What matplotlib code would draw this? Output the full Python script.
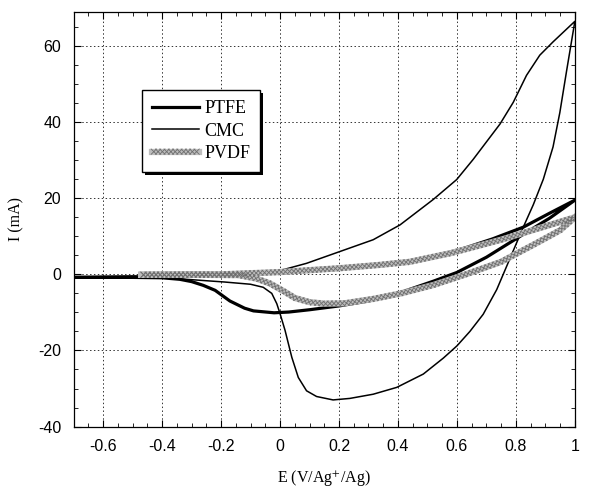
import matplotlib
matplotlib.use('Agg')
import matplotlib.pyplot as plt
import matplotlib.patheffects as pe
from matplotlib.patches import Rectangle
from matplotlib.transforms import IdentityTransform
from matplotlib.ticker import MultipleLocator

# cyclic voltammograms, values
# PTFE binder (thick black)
ptfe_e = [-0.7, -0.5, -0.4, -0.34, -0.3, -0.26, -0.22, -0.17, -0.12, -0.09, -0.02, 0.03, 0.1,
          0.2, 0.3, 0.4, 0.52, 0.6, 0.7, 0.81, 0.915, 1.0, 0.915, 0.825, 0.72, 0.63, 0.58,
          0.44, 0.2, 0.0, -0.2, -0.4, -0.7]
ptfe_i = [-0.8, -0.8, -0.9, -1.3, -1.9, -2.9, -4.2, -7.0, -8.9, -9.6, -10.1, -9.9, -9.3,
          -8.3, -7.0, -5.0, -1.8, 0.5, 4.5, 9.8, 14.8, 19.5, 16.1, 12.4, 9.3, 7.0, 5.7,
          3.4, 1.5, 0.4, -0.2, -0.6, -0.8]

# CMC binder (thin black)
cmc_e = [-0.7, -0.4, -0.3, -0.19, -0.1, -0.057, -0.028, -0.011, 0.0, 0.017, 0.04, 0.062,
         0.09, 0.124, 0.18, 0.237, 0.316, 0.396, 0.486, 0.554, 0.6, 0.644, 0.689, 0.735,
         0.757, 0.791, 0.825, 0.859, 0.893, 0.926, 0.949, 0.972, 1.0,
         0.926, 0.881, 0.836, 0.791, 0.746, 0.655, 0.599, 0.52, 0.407, 0.316, 0.203,
         0.09, 0.0, -0.08, -0.2, -0.4, -0.7]
cmc_i = [-0.8, -0.9, -1.4, -2.0, -2.6, -3.4, -5.0, -7.7, -10.3, -14.7, -21.8, -27.1,
         -30.6, -32.1, -33.0, -32.6, -31.5, -29.7, -26.2, -22.0, -18.8, -15.0, -10.5, -4.0,
         0.0, 6.2, 12.4, 18.3, 25.0, 33.5, 42.5, 53.5, 66.5,
         61.1, 57.6, 52.3, 45.2, 39.5, 30.2, 24.9, 19.7, 13.0, 9.1, 6.0,
         2.9, 1.0, 0.3, -0.3, -0.7, -0.8]

# PVDF binder (grey hatched band)
pvdf_e = [-0.47, -0.2, 0.0, 0.2, 0.34, 0.44, 0.58, 0.75, 0.86, 0.95, 1.0,
          0.95, 0.86, 0.75, 0.63, 0.52, 0.41, 0.32, 0.22, 0.15, 0.1, 0.05, 0.01,
          -0.034, -0.08, -0.14, -0.3, -0.47]
pvdf_i = [-0.1, 0.0, 0.6, 1.6, 2.5, 3.3, 5.6, 9.1, 11.7, 13.8, 15.0,
          11.6, 7.8, 3.3, 0.0, -2.8, -5.0, -6.4, -7.6, -7.7, -7.3, -6.2, -4.3,
          -2.4, -1.1, -0.2, -0.1, -0.1]

plt.rcParams['mathtext.fontset'] = 'stix'

fig = plt.figure(figsize=(5.89, 4.92), dpi=100)
ax = fig.add_axes([0.125, 0.133, 0.851, 0.843])

ax.plot(ptfe_e, ptfe_i, color='black', lw=2.3, label='PTFE', zorder=3)
ax.plot(cmc_e, cmc_i, color='black', lw=1.1, label='CMC', zorder=3)

# hatched grey band: grey stroke with small crosses ticked along it
hatch = [pe.Stroke(linewidth=4.5, foreground='#bdbdbd')]
for ang in (45, -135, 135, -45):
    hatch.append(pe.withTickedStroke(spacing=3, angle=ang, length=0.9,
                                     linewidth=0.6, foreground='#6e6e6e'))
ax.plot(pvdf_e, pvdf_i, color='#bdbdbd', lw=0.01, label='PVDF', zorder=4,
        path_effects=hatch)

ax.set_xlim(-0.7, 1.0)
ax.set_ylim(-40, 69)
ax.xaxis.set_minor_locator(MultipleLocator(0.05))
ax.yaxis.set_minor_locator(MultipleLocator(5))
ax.set_xticks([-0.6, -0.4, -0.2, 0, 0.2, 0.4, 0.6, 0.8, 1.0])
ax.set_xticklabels(['-0.6', '-0.4', '-0.2', '0', '0.2', '0.4', '0.6', '0.8', '1'])
ax.set_yticks([-40, -20, 0, 20, 40, 60])
ax.set_yticklabels(['-40', '-20', '0', '20', '40', '60'])

ax.tick_params(which='both', direction='in', top=True, right=True, color='black')
ax.tick_params(which='major', length=5, width=0.8, pad=9,
               labelsize=11.5, labelfontfamily='Liberation Sans')
ax.tick_params(which='minor', length=3, width=0.6)
for s in ax.spines.values():
    s.set_linewidth(0.9)

ax.grid(True, which='major', color='#333333', lw=0.7, linestyle=(0, (1.5, 2.5)))

ax.set_xlabel('E (V/Ag$^{+}$/Ag)', family='Liberation Serif', fontsize=11.5, labelpad=10)
ax.set_ylabel('I (mA)', family='Liberation Serif', fontsize=11.5, labelpad=10)

leg = ax.legend(loc='upper left', bbox_to_anchor=(0.136, 0.811), borderaxespad=0,
                fancybox=False, shadow=False, framealpha=1,
                edgecolor='black', handlelength=2.6, handletextpad=0.3,
                borderpad=0.55, labelspacing=0.3,
                prop={'family': 'Liberation Serif', 'size': 13})
leg.get_frame().set_linewidth(1.0)
leg.set_zorder(6)

# solid offset shadow behind the legend box
fig.canvas.draw()
bb = leg.get_frame().get_window_extent()
ax.add_patch(Rectangle((bb.x0 + 3, bb.y0 - 3), bb.width, bb.height,
                       transform=IdentityTransform(), facecolor='black',
                       edgecolor='none', zorder=5.5, clip_on=False))

fig.savefig('out.png', dpi=100)
